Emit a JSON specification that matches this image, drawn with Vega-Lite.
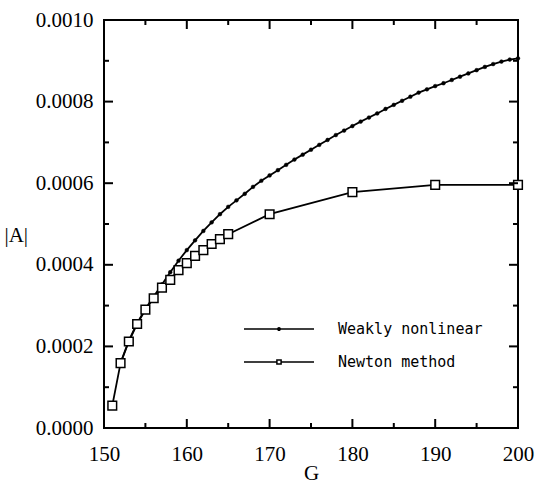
{
  "$schema": "https://vega.github.io/schema/vega-lite/v6.json",
  "autosize": "none",
  "padding": {"left": 104, "top": 20, "right": 18, "bottom": 55},
  "width": 414,
  "height": 408,
  "background": "white",
  "view": {"stroke": "black", "strokeWidth": 2},
  "config": {
    "axis": {
      "grid": false,
      "domain": false,
      "ticks": false,
      "labelFlush": false,
      "labelColor": "black",
      "titleColor": "black",
      "labelFont": "Liberation Serif",
      "titleFont": "Liberation Serif",
      "labelFontSize": 21,
      "titleFontSize": 21,
      "titleFontWeight": "normal"
    },
    "legend": {
      "orient": "none",
      "padding": 0,
      "labelFont": "DejaVu Sans Mono",
      "labelFontSize": 15,
      "labelColor": "black",
      "symbolStrokeColor": "black",
      "symbolStrokeWidth": 1.5,
      "symbolSize": 4900,
      "labelOffset": 23,
      "title": null
    }
  },
  "datasets": {
    "curves": [
      {"series": "Newton method", "G": 151, "A": 0.000055},
      {"series": "Newton method", "G": 152, "A": 0.000159},
      {"series": "Newton method", "G": 153, "A": 0.000212},
      {"series": "Newton method", "G": 154, "A": 0.000255},
      {"series": "Newton method", "G": 155, "A": 0.00029},
      {"series": "Newton method", "G": 156, "A": 0.000318},
      {"series": "Newton method", "G": 157, "A": 0.000344},
      {"series": "Newton method", "G": 158, "A": 0.000363},
      {"series": "Newton method", "G": 159, "A": 0.000387},
      {"series": "Newton method", "G": 160, "A": 0.000404},
      {"series": "Newton method", "G": 161, "A": 0.000422},
      {"series": "Newton method", "G": 162, "A": 0.000436},
      {"series": "Newton method", "G": 163, "A": 0.000451},
      {"series": "Newton method", "G": 164, "A": 0.000463},
      {"series": "Newton method", "G": 165, "A": 0.000475},
      {"series": "Newton method", "G": 170, "A": 0.000524},
      {"series": "Newton method", "G": 180, "A": 0.000578},
      {"series": "Newton method", "G": 190, "A": 0.000596},
      {"series": "Newton method", "G": 200, "A": 0.000596},
      {"series": "Weakly nonlinear", "G": 152, "A": 0.00016},
      {"series": "Weakly nonlinear", "G": 153, "A": 0.000214},
      {"series": "Weakly nonlinear", "G": 154, "A": 0.000257},
      {"series": "Weakly nonlinear", "G": 155, "A": 0.000292},
      {"series": "Weakly nonlinear", "G": 156, "A": 0.000322},
      {"series": "Weakly nonlinear", "G": 157, "A": 0.000352},
      {"series": "Weakly nonlinear", "G": 158, "A": 0.000382},
      {"series": "Weakly nonlinear", "G": 159, "A": 0.00041},
      {"series": "Weakly nonlinear", "G": 160, "A": 0.000436},
      {"series": "Weakly nonlinear", "G": 161, "A": 0.00046},
      {"series": "Weakly nonlinear", "G": 162, "A": 0.000483},
      {"series": "Weakly nonlinear", "G": 163, "A": 0.000504},
      {"series": "Weakly nonlinear", "G": 164, "A": 0.000524},
      {"series": "Weakly nonlinear", "G": 165, "A": 0.000542},
      {"series": "Weakly nonlinear", "G": 166, "A": 0.000558},
      {"series": "Weakly nonlinear", "G": 167, "A": 0.000574},
      {"series": "Weakly nonlinear", "G": 168, "A": 0.000591},
      {"series": "Weakly nonlinear", "G": 169, "A": 0.000606},
      {"series": "Weakly nonlinear", "G": 170, "A": 0.000619},
      {"series": "Weakly nonlinear", "G": 171, "A": 0.000632},
      {"series": "Weakly nonlinear", "G": 172, "A": 0.000645},
      {"series": "Weakly nonlinear", "G": 173, "A": 0.000658},
      {"series": "Weakly nonlinear", "G": 174, "A": 0.00067},
      {"series": "Weakly nonlinear", "G": 175, "A": 0.000682},
      {"series": "Weakly nonlinear", "G": 176, "A": 0.000694},
      {"series": "Weakly nonlinear", "G": 177, "A": 0.000706},
      {"series": "Weakly nonlinear", "G": 178, "A": 0.000718},
      {"series": "Weakly nonlinear", "G": 179, "A": 0.000729},
      {"series": "Weakly nonlinear", "G": 180, "A": 0.00074},
      {"series": "Weakly nonlinear", "G": 181, "A": 0.000751},
      {"series": "Weakly nonlinear", "G": 182, "A": 0.000761},
      {"series": "Weakly nonlinear", "G": 183, "A": 0.000771},
      {"series": "Weakly nonlinear", "G": 184, "A": 0.000782},
      {"series": "Weakly nonlinear", "G": 185, "A": 0.000792},
      {"series": "Weakly nonlinear", "G": 186, "A": 0.000802},
      {"series": "Weakly nonlinear", "G": 187, "A": 0.000812},
      {"series": "Weakly nonlinear", "G": 188, "A": 0.000822},
      {"series": "Weakly nonlinear", "G": 189, "A": 0.00083},
      {"series": "Weakly nonlinear", "G": 190, "A": 0.000838},
      {"series": "Weakly nonlinear", "G": 191, "A": 0.000845},
      {"series": "Weakly nonlinear", "G": 192, "A": 0.000853},
      {"series": "Weakly nonlinear", "G": 193, "A": 0.000861},
      {"series": "Weakly nonlinear", "G": 194, "A": 0.000869},
      {"series": "Weakly nonlinear", "G": 195, "A": 0.000877},
      {"series": "Weakly nonlinear", "G": 196, "A": 0.000885},
      {"series": "Weakly nonlinear", "G": 197, "A": 0.000892},
      {"series": "Weakly nonlinear", "G": 198, "A": 0.000898},
      {"series": "Weakly nonlinear", "G": 199, "A": 0.000903},
      {"series": "Weakly nonlinear", "G": 200, "A": 0.000906}
    ],
    "xticks": [
      {"v": 150, "k": "major"}, {"v": 160, "k": "major"}, {"v": 170, "k": "major"},
      {"v": 180, "k": "major"}, {"v": 190, "k": "major"}, {"v": 200, "k": "major"},
      {"v": 155, "k": "minor"}, {"v": 165, "k": "minor"}, {"v": 175, "k": "minor"},
      {"v": 185, "k": "minor"}, {"v": 195, "k": "minor"}
    ],
    "yticks": [
      {"v": 0, "k": "major"}, {"v": 0.0002, "k": "major"}, {"v": 0.0004, "k": "major"},
      {"v": 0.0006, "k": "major"}, {"v": 0.0008, "k": "major"}, {"v": 0.001, "k": "major"},
      {"v": 0.0001, "k": "minor"}, {"v": 0.0003, "k": "minor"}, {"v": 0.0005, "k": "minor"},
      {"v": 0.0007, "k": "minor"}, {"v": 0.0009, "k": "minor"}
    ]
  },
  "layer": [
    {
      "data": {"name": "curves"},
      "mark": {"type": "line", "color": "black", "strokeWidth": 1.8},
      "encoding": {
        "x": {"field": "G", "type": "quantitative",
          "scale": {"domain": [150, 200], "nice": false, "zero": false},
          "axis": {"orient": "bottom", "values": [150, 160, 170, 180, 190, 200], "labelPadding": 15,
            "title": "G", "titleBaseline": "alphabetic", "titleX": 207, "titleY": 51, "titleAlign": "center"}},
        "y": {"field": "A", "type": "quantitative",
          "scale": {"domain": [0, 0.001], "nice": false, "zero": false},
          "axis": {"orient": "left", "values": [0, 0.0002, 0.0004, 0.0006, 0.0008, 0.001], "format": ".4f", "labelPadding": 11,
            "title": "|A|", "titleAngle": 0, "titleAlign": "left", "titleBaseline": "middle", "titleX": -100, "titleY": 215}},
        "detail": {"field": "series"}
      }
    },
    {
      "data": {"name": "curves"},
      "transform": [{"filter": "datum.series == 'Weakly nonlinear'"}],
      "mark": {"type": "point", "shape": "circle", "filled": true, "size": 14, "stroke": "black", "strokeWidth": 0.5, "opacity": 1},
      "encoding": {
        "x": {"field": "G", "type": "quantitative"},
        "y": {"field": "A", "type": "quantitative"},
        "fill": {"field": "series", "type": "nominal",
          "scale": {"domain": ["Weakly nonlinear"], "range": ["black"]},
          "legend": {"legendX": 139, "legendY": 273,
            "symbolType": "M-1,0H1M0.035,0A0.035,0.035,0,1,1,-0.035,0A0.035,0.035,0,1,1,0.035,0Z"}}
      }
    },
    {
      "data": {"name": "curves"},
      "transform": [{"filter": "datum.series == 'Newton method'"}],
      "mark": {"type": "point", "shape": "square", "size": 75, "fill": "white", "filled": false, "strokeWidth": 1.5, "opacity": 1},
      "encoding": {
        "x": {"field": "G", "type": "quantitative"},
        "y": {"field": "A", "type": "quantitative"},
        "stroke": {"field": "series", "type": "nominal",
          "scale": {"domain": ["Newton method"], "range": ["black"]},
          "legend": {"legendX": 139, "legendY": 306,
            "symbolType": "M-1,0H-0.06M0.06,0H1M-0.06,-0.06H0.06V0.06H-0.06Z",
            "symbolFillColor": "white"}}
      }
    },
    {
      "data": {"name": "xticks"},
      "transform": [{"filter": "datum.k == 'major'"}],
      "mark": {"type": "tick", "orient": "vertical", "color": "black", "opacity": 1, "size": 9, "thickness": 2, "yOffset": -4.5},
      "encoding": {"x": {"field": "v", "type": "quantitative"}, "y": {"datum": 0, "type": "quantitative"}}
    },
    {
      "data": {"name": "xticks"},
      "transform": [{"filter": "datum.k == 'minor'"}],
      "mark": {"type": "tick", "orient": "vertical", "color": "black", "opacity": 1, "size": 5, "thickness": 2, "yOffset": -2.5},
      "encoding": {"x": {"field": "v", "type": "quantitative"}, "y": {"datum": 0, "type": "quantitative"}}
    },
    {
      "data": {"name": "xticks"},
      "transform": [{"filter": "datum.k == 'major'"}],
      "mark": {"type": "tick", "orient": "vertical", "color": "black", "opacity": 1, "size": 9, "thickness": 2, "yOffset": 4.5},
      "encoding": {"x": {"field": "v", "type": "quantitative"}, "y": {"datum": 0.001, "type": "quantitative"}}
    },
    {
      "data": {"name": "xticks"},
      "transform": [{"filter": "datum.k == 'minor'"}],
      "mark": {"type": "tick", "orient": "vertical", "color": "black", "opacity": 1, "size": 5, "thickness": 2, "yOffset": 2.5},
      "encoding": {"x": {"field": "v", "type": "quantitative"}, "y": {"datum": 0.001, "type": "quantitative"}}
    },
    {
      "data": {"name": "yticks"},
      "transform": [{"filter": "datum.k == 'major'"}],
      "mark": {"type": "tick", "orient": "horizontal", "color": "black", "opacity": 1, "size": 9, "thickness": 2, "xOffset": 4.5},
      "encoding": {"y": {"field": "v", "type": "quantitative"}, "x": {"datum": 150, "type": "quantitative"}}
    },
    {
      "data": {"name": "yticks"},
      "transform": [{"filter": "datum.k == 'minor'"}],
      "mark": {"type": "tick", "orient": "horizontal", "color": "black", "opacity": 1, "size": 5, "thickness": 2, "xOffset": 2.5},
      "encoding": {"y": {"field": "v", "type": "quantitative"}, "x": {"datum": 150, "type": "quantitative"}}
    },
    {
      "data": {"name": "yticks"},
      "transform": [{"filter": "datum.k == 'major'"}],
      "mark": {"type": "tick", "orient": "horizontal", "color": "black", "opacity": 1, "size": 9, "thickness": 2, "xOffset": -4.5},
      "encoding": {"y": {"field": "v", "type": "quantitative"}, "x": {"datum": 200, "type": "quantitative"}}
    },
    {
      "data": {"name": "yticks"},
      "transform": [{"filter": "datum.k == 'minor'"}],
      "mark": {"type": "tick", "orient": "horizontal", "color": "black", "opacity": 1, "size": 5, "thickness": 2, "xOffset": -2.5},
      "encoding": {"y": {"field": "v", "type": "quantitative"}, "x": {"datum": 200, "type": "quantitative"}}
    }
  ]
}
